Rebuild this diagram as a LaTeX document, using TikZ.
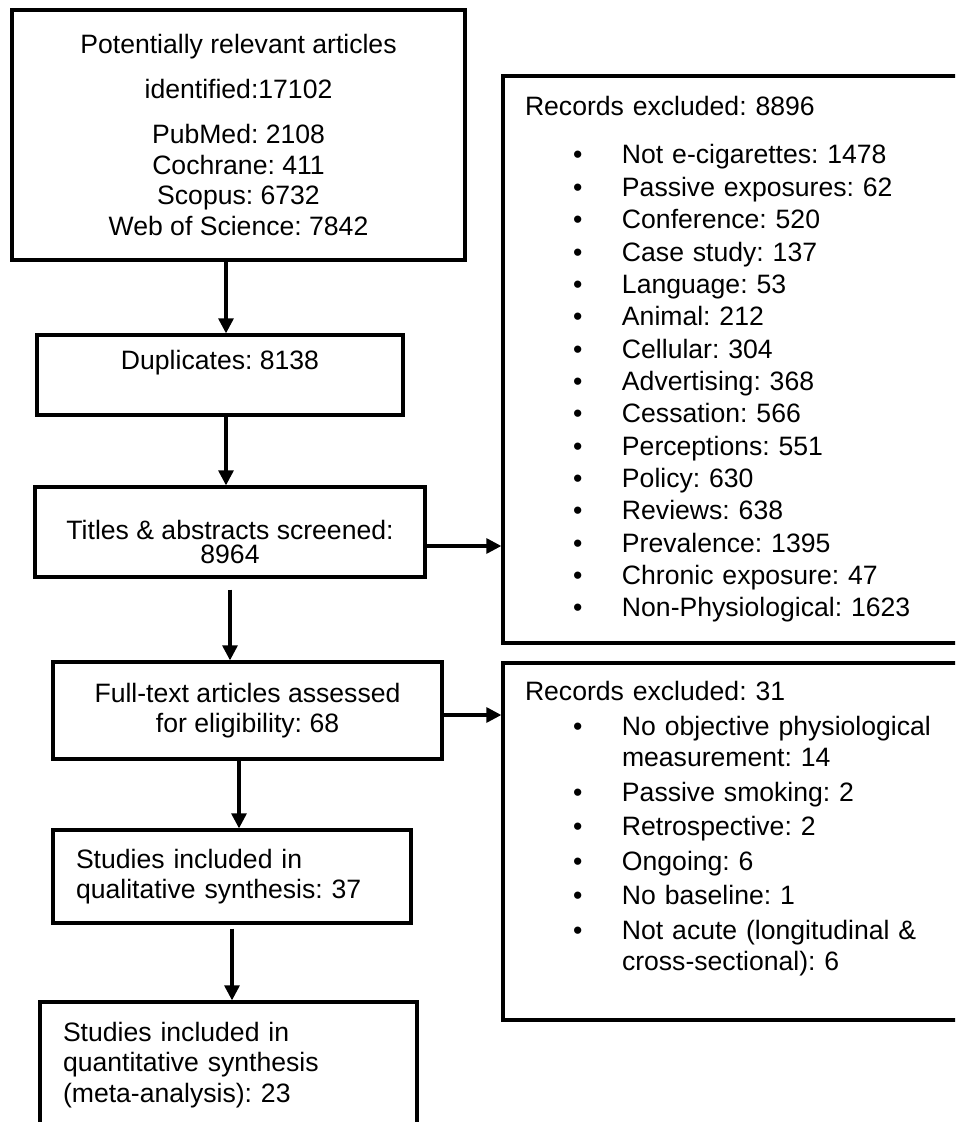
\documentclass[tikz,border=0pt]{standalone}
\usepackage{fontspec}
\setmainfont{Liberation Sans}
\usetikzlibrary{arrows.meta, positioning}
\newdimen\pxu \pxu=0.4513pt
\newcommand{\bul}{\hspace*{48\pxu}\makebox[49\pxu][l]{\textbullet}}
\newcommand{\wrapind}{\hspace*{97\pxu}}

\begin{document}
\frenchspacing
\begin{tikzpicture}[x=0.4513pt, y=-0.4513pt,
    bx/.style={draw, line width=1.5pt, inner sep=0pt, font=\fontsize{12}{13.8}\selectfont},
    arr/.style={line width=1.4pt, -{Triangle[length=6.8pt, width=6.8pt]}}]
  \useasboundingbox (0,0) rectangle (955,1122);
  \clip (0,0) rectangle (955,1122);
  % left column
  \node[bx, minimum width=453\pxu, minimum height=250\pxu, align=center] (src) at (238.5,135)
    {Potentially relevant articles\\[6.5pt] identified:17102\\[6.5pt] PubMed: 2108\\ Cochrane: 411\\ Scopus: 6732\\ Web of Science: 7842};
  \node[bx, minimum width=366\pxu, minimum height=80\pxu, align=center] (dup) at (220,375)
    {Duplicates: 8138\\ \mbox{}};
  \node[bx, minimum width=390\pxu, minimum height=90\pxu, align=center, font=\fontsize{12}{10.9}\selectfont] (ttl) at (230,532)
    {\rule{0pt}{18pt}Titles \& abstracts screened:\\ 8964};
  \node[bx, minimum width=389\pxu, minimum height=97\pxu, align=center] (full) at (247.5,710.5)
    {Full-text articles assessed\\ for eligibility: 68};
  \node[bx, minimum width=358\pxu, minimum height=93\pxu, text width=312\pxu, inner xsep=23\pxu, align=left] (qual) at (232,876.5)
    {Studies included in\\ qualitative synthesis: 37};
  \node[bx, minimum width=377\pxu, minimum height=126\pxu, text width=331\pxu, inner xsep=23\pxu, align=left] (quant) at (228.5,1065)
    {Studies included in\\ quantitative synthesis\\ (meta-analysis): 23};
  % right column
  \node[bx, minimum width=500\pxu, minimum height=567\pxu, text width=456\pxu, inner xsep=22\pxu, align=left,
        font=\fontsize{12}{14.6}\selectfont] (exc1) at (753,359.5)
    {Records excluded: 8896\\[7.1pt]
     \bul Not e-cigarettes: 1478\\
     \bul Passive exposures: 62\\
     \bul Conference: 520\\
     \bul Case study: 137\\
     \bul Language: 53\\
     \bul Animal: 212\\
     \bul Cellular: 304\\
     \bul Advertising: 368\\
     \bul Cessation: 566\\
     \bul Perceptions: 551\\
     \bul Policy: 630\\
     \bul Reviews: 638\\
     \bul Prevalence: 1395\\
     \bul Chronic exposure: 47\\
     \bul Non-Physiological: 1623};
  \node[bx, minimum width=500\pxu, minimum height=357\pxu, text width=456\pxu, inner xsep=22\pxu, align=left,
        font=\fontsize{12}{14}\selectfont] (exc2) at (753,841.5)
    {Records excluded: 31\\[1.8pt]
     \bul No objective physiological\\
     \wrapind measurement: 14\\[1.6pt]
     \bul Passive smoking: 2\\[1.6pt]
     \bul Retrospective: 2\\[1.6pt]
     \bul Ongoing: 6\\[1.6pt]
     \bul No baseline: 1\\[1.6pt]
     \bul Not acute (longitudinal \&\\
     \wrapind cross-sectional): 6\\ \mbox{}};
  % connectors
  \coordinate (c1) at ([xshift=6\pxu]dup.north);
  \coordinate (c2) at ([xshift=6\pxu]dup.south);
  \coordinate (c3) at ([yshift=-14\pxu]ttl.east);
  \coordinate (c5) at ([yshift=-4.5\pxu]full.east);
  \coordinate (c6) at ([xshift=-8.5\pxu]full.south);
  \draw[arr] (c1 |- src.south) -- (c1);
  \draw[arr] (c2) -- (c2 |- ttl.north);
  \draw[arr] (c3) -- (c3 -| exc1.west);
  \draw[arr, shorten <=11\pxu] (ttl.south) -- (ttl.south |- full.north);
  \draw[arr] (c5) -- (c5 -| exc2.west);
  \draw[arr] (c6) -- (c6 |- qual.north);
  \draw[arr, shorten <=4\pxu] (qual.south) -- (qual.south |- quant.north);
\end{tikzpicture}
\end{document}
